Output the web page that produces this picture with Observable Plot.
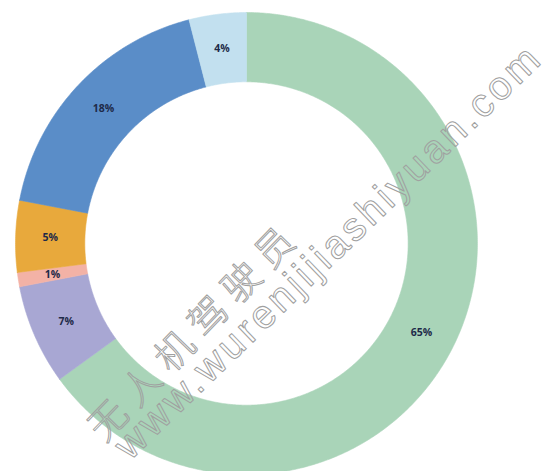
<!DOCTYPE html>
<html>
<head>
<meta charset="utf-8">
<script src="https://cdn.jsdelivr.net/npm/d3@7"></script>
<script src="https://cdn.jsdelivr.net/npm/@observablehq/plot@0.6"></script>
<style>
  html, body { margin: 0; padding: 0; background: #ffffff; }
  #chart svg { display: block; }
</style>
</head>
<body>
<div id="chart"></div>
<script>
// ---- data ----
const labels = ["65%", "7%", "1%", "5%", "18%", "4%"];
const values = [65, 7, 1, 5, 18, 4];
const colors = ["#a9d4b8", "#a8a7d3", "#f3b2a6", "#e8a93c", "#5a8dc8", "#c2e0ef"];
const watermarkCN = ["无人机驾驶员"];
const watermarkURL = ["www.wurenjijiashiyuan.com"];

// ---- build ring polygons in data space (outer radius = 1) ----
const inner = 0.70;
const total = d3.sum(values);
const slices = [];
let acc = 0;
values.forEach((v, i) => {
  const a0 = acc / total * 2 * Math.PI;
  acc += v;
  const a1 = acc / total * 2 * Math.PI;
  slices.push({label: labels[i], color: colors[i], a0, a1});
});

const pts = [];
for (const s of slices) {
  const n = Math.max(2, Math.ceil((s.a1 - s.a0) / (Math.PI / 360)));
  for (let k = 0; k <= n; k++) {
    const a = s.a0 + (s.a1 - s.a0) * k / n;
    pts.push({name: s.label, color: s.color, x: Math.sin(a), y: Math.cos(a)});
  }
  for (let k = n; k >= 0; k--) {
    const a = s.a0 + (s.a1 - s.a0) * k / n;
    pts.push({name: s.label, color: s.color, x: inner * Math.sin(a), y: inner * Math.cos(a)});
  }
  pts.push({name: s.label, color: s.color, x: Math.sin(s.a0), y: Math.cos(s.a0)});
}

const labelR = (1 + inner) / 2;
const labelPts = slices.map(s => {
  const m = (s.a0 + s.a1) / 2;
  return {label: s.label, x: labelR * Math.sin(m), y: labelR * Math.cos(m)};
});

const plot = Plot.plot({
  width: 555,
  height: 471,
  margin: 0,
  x: {domain: [-1.065, 1.338], axis: null},
  y: {domain: [-0.987, 1.052], axis: null},
  marks: [
    Plot.line(pts, {x: "x", y: "y", z: "name", fill: "color", stroke: "color", strokeWidth: 0.6, curve: "linear"}),
    Plot.text(labelPts, {x: "x", y: "y", text: "label", fill: "#1e2a48", fontSize: 10.5, fontWeight: "bold", fontFamily: "Open Sans"}),
    Plot.text(watermarkCN, {x: [-0.22], y: [-0.38], text: d => d, rotate: -46, fontSize: 38, fontFamily: "Noto Sans CJK SC", fontWeight: 300, fill: "none", stroke: "#a0a0a0", strokeWidth: 1}),
    Plot.text(watermarkURL, {x: [0.355], y: [-0.035], text: d => d, rotate: -44, fontSize: 40, fontFamily: "Liberation Sans", fill: "none", stroke: "#a0a0a0", strokeWidth: 1})
  ]
});

d3.select(plot).selectAll("text").each(function() {
  const t = this.textContent;
  if (t === watermarkCN[0]) d3.select(this).style("letter-spacing", "10px");
  if (t === watermarkURL[0]) d3.select(this).style("letter-spacing", "3.6px");
});

document.getElementById("chart").appendChild(plot);
</script>
</body>
</html>
